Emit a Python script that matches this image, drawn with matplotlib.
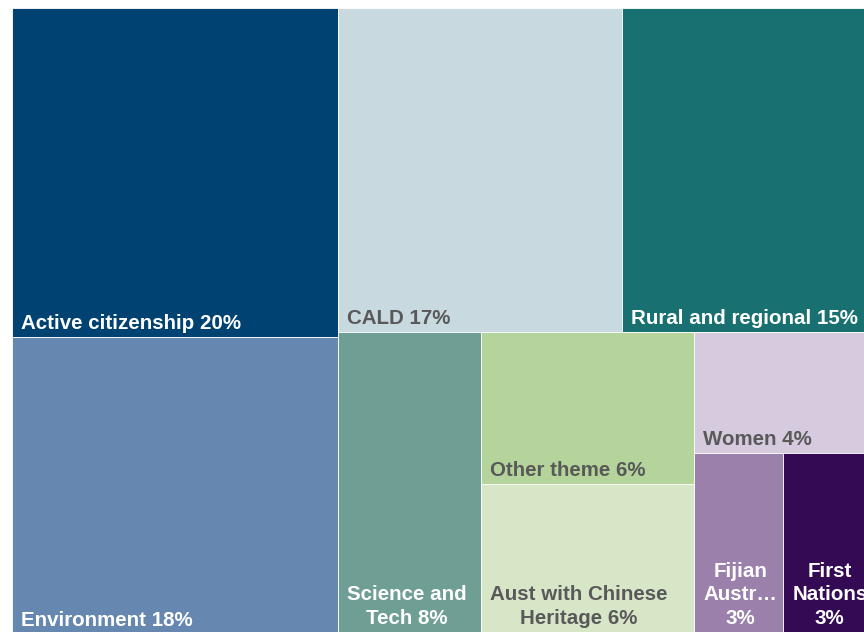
import matplotlib
matplotlib.use("Agg")
import matplotlib.pyplot as plt
from matplotlib.patches import Rectangle

# ---- data ----
categories = ["Active citizenship", "Environment", "CALD", "Rural and regional",
              "Science and Tech", "Other theme", "Aust with Chinese Heritage",
              "Women", "Fijian Australians", "First Nations"]
values = [20.1, 18.1, 17.2, 14.8, 8.1, 6.05, 6.0, 3.9, 3.0, 2.8]
display_labels = ["Active citizenship {p}%", "Environment {p}%", "CALD {p}%",
                  "Rural and regional {p}%", "Science and\nTech {p}%", "Other theme {p}%",
                  "Aust with Chinese\nHeritage {p}%", "Women {p}%",
                  "Fijian\nAustr\u2026\n{p}%", "First\nNations\n{p}%"]
colors = ["#004272", "#6688b0", "#c8d9e0", "#187070", "#6f9f94",
          "#b5d49b", "#d8e6c8", "#d6cbde", "#9a80ab", "#350a55"]
text_colors = ["white", "white", "#595959", "white", "white",
               "#595959", "#595959", "#595959", "white", "white"]
# nesting of the treemap (alternating horizontal / vertical slicing)
layout_tree = [[0, 1], [[2, 3], [4, [5, 6], [7, [8, 9]]]]]

total = sum(values)


def node_value(node):
    if isinstance(node, int):
        return values[node]
    return sum(node_value(c) for c in node)


rects = {}


def slice_node(node, x, y, w, h, horizontal):
    if isinstance(node, int):
        rects[node] = (x, y, w, h)
        return
    s = node_value(node)
    pos = 0.0
    for c in node:
        f = node_value(c) / s
        if horizontal:
            slice_node(c, x + pos * w, y, w * f, h, not horizontal)
        else:
            slice_node(c, x, y + pos * h, w, h * f, not horizontal)
        pos += f


slice_node(layout_tree, 0.0, 0.0, 1.0, 1.0, True)

W, H = 864, 632
fig = plt.figure(figsize=(W / 100, H / 100), dpi=100)
fig.patch.set_facecolor("white")
ax_left, ax_top, ax_w, ax_h = 12, 8, 854, 626
ax = fig.add_axes([ax_left / W, 1 - (ax_top + ax_h) / H, ax_w / W, ax_h / H])
ax.set_xlim(0, 1)
ax.set_ylim(1, 0)
ax.axis("off")

FS = 14.8
px_x = 1.0 / ax_w
px_y = 1.0 / ax_h
texts = []
for i in range(len(values)):
    x, y, w, h = rects[i]
    ax.add_patch(Rectangle((x, y), w, h, facecolor=colors[i], edgecolor="white",
                           linewidth=0.6))
    label = display_labels[i].format(p=f"{values[i] / total * 100:.0f}")
    multi = "\n" in label
    t = ax.text(x + 9 * px_x, y + h - (6 if multi else 4) * px_y, label,
                ha="left", va="bottom", multialignment="center",
                color=text_colors[i], fontsize=FS, fontweight="bold",
                family=["Liberation Sans", "DejaVu Sans"],
                linespacing=1.3 if multi else 1.2, clip_on=False)
    texts.append(t)

# texts wider than their cell (and the cell inside the figure) are centred
fig.canvas.draw()
renderer = fig.canvas.get_renderer()
for i, t in enumerate(texts):
    x, y, w, h = rects[i]
    bb = t.get_window_extent(renderer)
    cell_right = ax.transData.transform((x + w, 0))[0]
    if bb.x1 > cell_right - 2 and cell_right < W:
        t.set_x(x + w / 2)
        t.set_ha("center")

fig.savefig("out.png", dpi=100, facecolor="white")
